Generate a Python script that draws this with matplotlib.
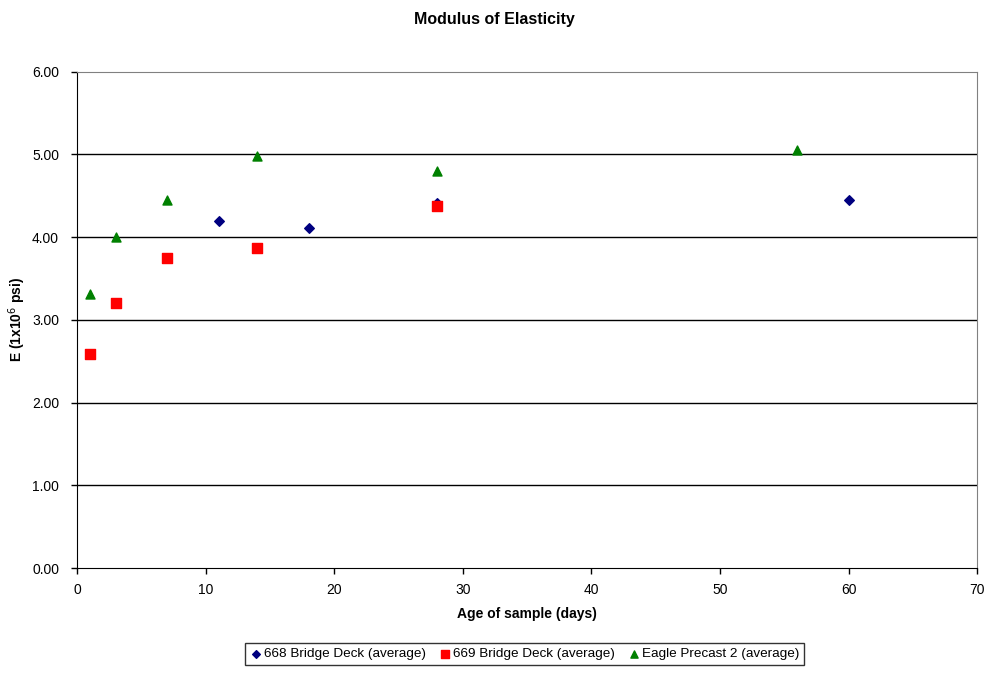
import matplotlib
matplotlib.use("Agg")
import matplotlib.pyplot as plt

plt.rcParams['font.family'] = ['Liberation Sans', 'DejaVu Sans']

# 668 Bridge Deck (average)
days_668 = [11, 18, 28, 60]
e_668 = [4.20, 4.11, 4.41, 4.45]
# 669 Bridge Deck (average)
days_669 = [1, 3, 7, 14, 28]
e_669 = [2.59, 3.20, 3.75, 3.87, 4.38]
# Eagle Precast 2 (average)
days_eagle = [1, 3, 7, 14, 28, 56]
e_eagle = [3.31, 4.00, 4.45, 4.98, 4.80, 5.06]

fig = plt.figure(figsize=(9.88, 6.77), dpi=100)
ax = fig.add_axes([0.078, 0.161, 0.911, 0.733])

for y in [1, 2, 3, 4, 5]:
    ax.axhline(y, color='black', lw=1, zorder=1)

ax.scatter(days_668, e_668, marker='D', s=24, color='#000080',
           label='668 Bridge Deck (average)', zorder=3)
ax.scatter(days_669, e_669, marker='s', s=42, color='#ff0000',
           label='669 Bridge Deck (average)', zorder=4)
ax.scatter(days_eagle, e_eagle, marker='^', s=42, color='#008000',
           label='Eagle Precast 2 (average)', zorder=3)

ax.set_xlim(0, 70)
ax.set_ylim(0, 6)
ax.set_xticks(range(0, 71, 10))
ax.set_yticks([0, 1, 2, 3, 4, 5, 6])
ax.set_yticklabels([f"{v:.2f}" for v in [0, 1, 2, 3, 4, 5, 6]])
ax.tick_params(direction='out', length=4, labelsize=10, width=1)
ax.tick_params(axis='x', pad=7)
ax.tick_params(axis='y', pad=9)

ax.spines['left'].set_color('black')
ax.spines['bottom'].set_color('black')
ax.spines['top'].set_color('#808080')
ax.spines['right'].set_color('#808080')

ax.set_xlabel('Age of sample (days)', fontsize=10, fontweight='bold', labelpad=7)
ax.set_ylabel(r'E (1x10$^{6}$ psi)', fontsize=10, fontweight='bold', va='center')
ax.yaxis.set_label_coords(-0.066, 0.5)
fig.suptitle('Modulus of Elasticity', fontsize=11.5, fontweight='bold', y=0.983)

leg = fig.legend(loc='lower center', bbox_to_anchor=(0.531, 0.008), ncol=3,
                 fontsize=9.7, frameon=True, fancybox=False, handletextpad=0.1,
                 columnspacing=0.9, borderpad=0.35, handlelength=1.0,
                 scatterpoints=1, markerscale=0.8)
leg.get_frame().set_edgecolor('black')
leg.get_frame().set_linewidth(1)

fig.savefig('out.png', dpi=100)
